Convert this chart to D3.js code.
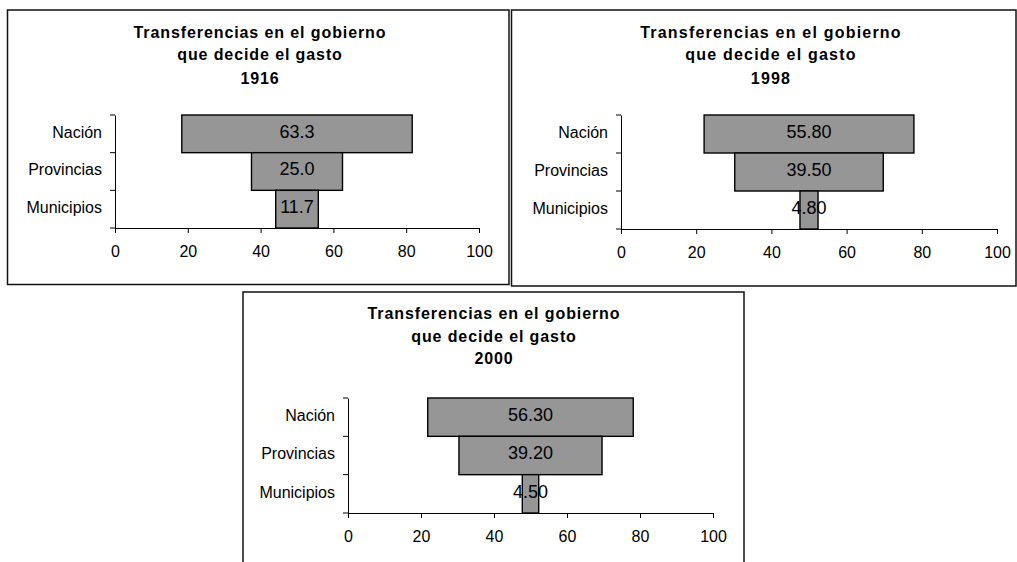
<!DOCTYPE html>
<html>
<head>
<meta charset="utf-8">
<script src="https://cdn.jsdelivr.net/npm/d3@7"></script>
<style>
  html, body { margin: 0; padding: 0; background: #fff; }
  svg { display: block; }
  text { font-family: "Liberation Sans", Arial, sans-serif; fill: #000; }
</style>
</head>
<body>
<svg id="chart" width="1017" height="562"></svg>
<script>
// ---- DATA ----
const categories = ["Nación", "Provincias", "Municipios"];
const years = ["1916", "1998", "2000"];
const values1916 = [63.3, 25.0, 11.7];
const values1998 = [55.80, 39.50, 4.80];
const values2000 = [56.30, 39.20, 4.50];
const decimals = [1, 2, 2];
const xTicks = [0, 20, 40, 60, 80, 100];
const titleLines = ["Transferencias en el gobierno", "que decide el gasto"];

// ---- LAYOUT (style only) ----
const panels = [
  { box: [7.5, 10, 509, 284.5], plot: [115, 479, 115, 228], tcx: 260, tb: [37.5, 60, 83.5], ls: 0.9 },
  { box: [511.5, 10, 1016, 286], plot: [621, 997, 115, 229], tcx: 771, tb: [37.5, 60, 83.5], ls: 1.2 },
  { box: [243, 292, 744, 600], plot: [348, 713, 398, 513], tcx: 494, tb: [319, 341.7, 364.3], ls: 0.9 }
];
const seriesList = [values1916, values1998, values2000];

const svg = d3.select("#chart");

panels.forEach((p, i) => {
  const vals = seriesList[i];
  const data = categories.map((c, j) => ({ cat: c, v: vals[j] }));
  const g = svg.append("g");

  // panel frame
  g.append("rect")
    .attr("x", p.box[0]).attr("y", p.box[1])
    .attr("width", p.box[2] - p.box[0]).attr("height", p.box[3] - p.box[1])
    .attr("fill", "#fff").attr("stroke", "#111").attr("stroke-width", 1.5);

  // title
  const lines = [titleLines[0], titleLines[1], years[i]];
  lines.forEach((t, k) => {
    g.append("text")
      .attr("x", p.tcx).attr("y", p.tb[k])
      .attr("text-anchor", "middle")
      .style("font-size", "16px").style("font-weight", "bold")
      .style("letter-spacing", p.ls + "px")
      .text(t);
  });

  const x = d3.scaleLinear().domain([0, 100]).range([p.plot[0], p.plot[1]]);
  const y = d3.scaleBand().domain(categories).range([p.plot[2], p.plot[3]]).padding(0);

  // bars (funnel: centered at 50)
  g.selectAll("rect.bar").data(data).enter().append("rect")
    .attr("class", "bar")
    .attr("x", d => x(50 - d.v / 2))
    .attr("y", d => y(d.cat))
    .attr("width", d => x(d.v) - x(0))
    .attr("height", y.bandwidth())
    .attr("fill", "#969696").attr("stroke", "#000").attr("stroke-width", 1.4);

  // value labels
  g.selectAll("text.val").data(data).enter().append("text")
    .attr("class", "val")
    .attr("x", x(50))
    .attr("y", d => y(d.cat) + y.bandwidth() / 2 + 0.358 * 18 - 2.5)
    .attr("text-anchor", "middle")
    .style("font-size", "18px")
    .text(d => d.v.toFixed(decimals[i]));

  // x axis
  const xAxis = d3.axisBottom(x).tickValues(xTicks).tickSize(5).tickSizeOuter(0).tickPadding(0);
  const xa = g.append("g").attr("transform", `translate(0,${p.plot[3]})`).call(xAxis);
  xa.select(".domain").attr("stroke", "#000");
  xa.selectAll(".tick line").attr("stroke", "#000");
  xa.selectAll(".tick text")
    .attr("y", 28.7).attr("dy", null)
    .style("font-size", "16px").style("font-family", "\"Liberation Sans\", Arial, sans-serif")
    .attr("fill", "#000");

  // y axis: labels at band centers, ticks at band boundaries
  const yAxis = d3.axisLeft(y).tickSize(0).tickPadding(13).tickSizeOuter(0);
  const ya = g.append("g").attr("transform", `translate(${p.plot[0]},0)`).call(yAxis);
  ya.select(".domain").attr("stroke", "#000");
  ya.selectAll(".tick text")
    .attr("dy", null)
    .attr("y", 0.358 * 16 - 2)
    .style("font-size", "16px").style("font-family", "\"Liberation Sans\", Arial, sans-serif")
    .attr("fill", "#000");
  const bounds = categories.map(c => y(c)).concat([y.range()[1]]);
  g.selectAll("line.ytick").data(bounds).enter().append("line")
    .attr("class", "ytick")
    .attr("x1", p.plot[0] - 5).attr("x2", p.plot[0])
    .attr("y1", d => d).attr("y2", d => d)
    .attr("stroke", "#000");
});
</script>
</body>
</html>
